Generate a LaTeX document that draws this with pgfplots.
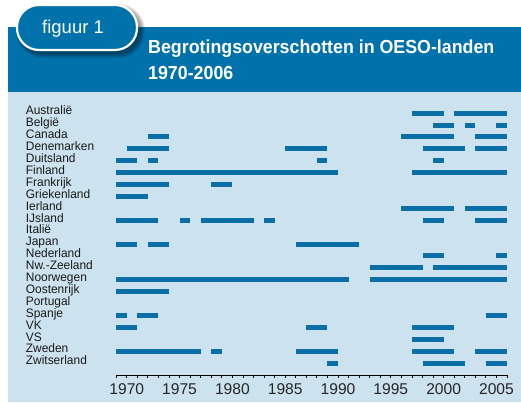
\documentclass[border=0pt]{standalone}
\usepackage{fontspec}
\setmainfont{Liberation Sans}
\usepackage{pgfplots}
\pgfplotsset{compat=1.18}
\definecolor{hdr}{HTML}{0072AB}
\definecolor{panel}{HTML}{CCE2EE}
\definecolor{barc}{HTML}{0A6FA7}
\pgfplotsset{seg/.style={draw=barc, line width=5pt, mark=none}}
\begin{document}
\begin{tikzpicture}[x=1pt,y=1pt]
\useasboundingbox (0,0) rectangle (521,403);
\fill[white] (0,0) rectangle (521,403);
\fill[panel] (8,1) rectangle (521,311);
\fill[hdr] (8,311) rectangle (521,376);
% tab shadow
\foreach \e in {0,1,2,3,4}{
  \fill[black,opacity=0.09,rounded corners=22.5+\e] (20-\e,349-\e) rectangle (141+\e,395+\e);
}
\fill[hdr, draw=white, line width=2.2pt, rounded corners=22] (17,353) rectangle (137,398);
\node[anchor=base west, text=white, font=\fontsize{18.5}{18}\selectfont, inner sep=0pt] at (42,369.7) {figuur 1};
\node[anchor=base west, text=white, font=\fontsize{17.8}{18}\selectfont\bfseries, inner sep=0pt, yscale=1.06] at (148,349.7) {Begrotingsoverschotten in OESO-landen};
\node[anchor=base west, text=white, font=\fontsize{17.8}{18}\selectfont\bfseries, inner sep=0pt, yscale=1.06] at (148,323) {1970-2006};
\begin{axis}[
  at={(116.2pt,28pt)}, anchor=south west, scale only axis,
  width=390.8pt, height=273.8pt,
  xmin=1969, xmax=2006, ymin=0, ymax=23,
  axis x line*=bottom, axis y line*=left,
  y axis line style={draw=none},
  x axis line style={line width=0.9pt, black},
  ytick={1,...,22},
  yticklabels={Zwitserland,Zweden,VS,VK,Spanje,Portugal,Oostenrijk,Noorwegen,Nw.-Zeeland,Nederland,Japan,Italië,IJsland,Ierland,Griekenland,Frankrijk,Finland,Duitsland,Denemarken,Canada,België,Australië},
  ytick style={draw=none},
  yticklabel style={font=\fontsize{12.3}{12}\selectfont, text=black!90, anchor=base west, inner sep=0pt, xshift=-87.5pt, yshift=-1.8pt, xscale=0.97},
  xtick={1970,1975,1980,1985,1990,1995,2000,2005},
  xticklabels={1970,1975,1980,1985,1990,1995,2000,2005},
  minor xtick={1969,1970,...,2006},
  tick align=outside,
  major tick length=3pt, minor tick length=3pt,
  xtick style={line width=0.8pt, black},
  minor tick style={line width=0.8pt, black},
  xticklabel style={font=\fontsize{15.6}{16}\selectfont, text=black!85, inner sep=0pt, yshift=-5pt},
  /pgf/number format/assume math mode=true,
  unbounded coords=jump, clip=false,
]
% 22 Australie
\addplot[seg] coordinates {(1997,22) (2000,22) (2000,nan) (2001,22) (2006,22)};
% 21 Belgie
\addplot[seg] coordinates {(1999,21) (2001,21) (2001,nan) (2002,21) (2003,21) (2003,nan) (2005,21) (2006,21)};
% 20 Canada
\addplot[seg] coordinates {(1972,20) (1974,20) (1974,nan) (1996,20) (2001,20) (2001,nan) (2003,20) (2006,20)};
% 19 Denemarken
\addplot[seg] coordinates {(1970,19) (1974,19) (1974,nan) (1985,19) (1989,19) (1989,nan) (1998,19) (2002,19) (2002,nan) (2003,19) (2006,19)};
% 18 Duitsland
\addplot[seg] coordinates {(1969,18) (1971,18) (1971,nan) (1972,18) (1973,18) (1973,nan) (1988,18) (1989,18) (1989,nan) (1999,18) (2000,18)};
% 17 Finland
\addplot[seg] coordinates {(1969,17) (1990,17) (1990,nan) (1997,17) (2006,17)};
% 16 Frankrijk
\addplot[seg] coordinates {(1969,16) (1974,16) (1974,nan) (1978,16) (1980,16)};
% 15 Griekenland
\addplot[seg] coordinates {(1969,15) (1972,15)};
% 14 Ierland
\addplot[seg] coordinates {(1996,14) (2001,14) (2001,nan) (2002,14) (2006,14)};
% 13 IJsland
\addplot[seg] coordinates {(1969,13) (1973,13) (1973,nan) (1975,13) (1976,13) (1976,nan) (1977,13) (1982,13) (1982,nan) (1983,13) (1984,13) (1984,nan) (1998,13) (2000,13) (2000,nan) (2003,13) (2006,13)};
% 11 Japan
\addplot[seg] coordinates {(1969,11) (1971,11) (1971,nan) (1972,11) (1974,11) (1974,nan) (1986,11) (1992,11)};
% 10 Nederland
\addplot[seg] coordinates {(1998,10) (2000,10) (2000,nan) (2005,10) (2006,10)};
% 9 Nw.-Zeeland
\addplot[seg] coordinates {(1993,9) (1998,9) (1998,nan) (1999,9) (2006,9)};
% 8 Noorwegen
\addplot[seg] coordinates {(1969,8) (1991,8) (1991,nan) (1993,8) (2006,8)};
% 7 Oostenrijk
\addplot[seg] coordinates {(1969,7) (1974,7)};
% 5 Spanje
\addplot[seg] coordinates {(1969,5) (1970,5) (1970,nan) (1971,5) (1973,5) (1973,nan) (2004,5) (2006,5)};
% 4 VK
\addplot[seg] coordinates {(1969,4) (1971,4) (1971,nan) (1987,4) (1989,4) (1989,nan) (1997,4) (2001,4)};
% 3 VS
\addplot[seg] coordinates {(1997,3) (2000,3)};
% 2 Zweden
\addplot[seg] coordinates {(1969,2) (1977,2) (1977,nan) (1978,2) (1979,2) (1979,nan) (1986,2) (1990,2) (1990,nan) (1997,2) (2001,2) (2001,nan) (2003,2) (2006,2)};
% 1 Zwitserland
\addplot[seg] coordinates {(1989,1) (1990,1) (1990,nan) (1998,1) (2002,1) (2002,nan) (2004,1) (2006,1)};
\end{axis}
\end{tikzpicture}
\end{document}
